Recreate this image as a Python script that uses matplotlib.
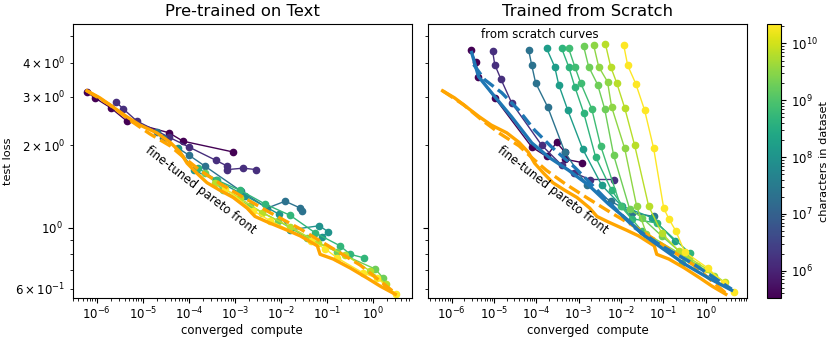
import matplotlib
matplotlib.use("Agg")
import matplotlib.pyplot as plt
import matplotlib.colors as mcolors
import matplotlib.cm as cm
import matplotlib.ticker as mticker

# ---------------- data ----------------
# Fine-tuned pareto front (solid) and its fit (dashed)
ft_front_x = [6.1e-7, 1.16e-6, 2.23e-6, 4.5e-6, 8.6e-6, 2.0e-5, 3.9e-5, 6.4e-5, 9.1e-5, 1.49e-4,
              2.46e-4, 4.7e-4, 9.1e-4, 1.82e-3, 2.7e-3, 5.0e-3, 1.35e-2, 2.6e-2, 6.1e-2, 7.0e-2,
              0.135, 0.316, 0.74, 1.42, 3.0]
ft_front_y = [3.16, 2.98, 2.76, 2.54, 2.37, 2.22, 2.05, 1.89, 1.72, 1.58,
              1.46, 1.37, 1.29, 1.18, 1.10, 1.05, 0.98, 0.934, 0.859, 0.80,
              0.769, 0.713, 0.655, 0.612, 0.572]
ft_fit_x = [6.1e-7, 1.92e-6, 5.2e-6, 1.42e-5, 3.9e-5, 8.2e-5, 1.73e-4, 4.7e-4, 1.65e-3,
            5.8e-3, 2.6e-2, 0.116, 0.52, 3.0]
ft_fit_y = [3.16, 2.81, 2.47, 2.20, 1.99, 1.79, 1.62, 1.45, 1.28,
            1.135, 0.99, 0.851, 0.731, 0.577]

# Scratch pareto front (solid) and its fit (dashed)
sc_front_x = [2.96e-6, 4.3e-6, 1.04e-5, 2.6e-5, 7.8e-5, 1.96e-4, 5.8e-4, 1.72e-3, 5.1e-3,
              1.52e-2, 3.1e-2, 9.1e-2, 0.32, 1.18, 4.1]
sc_front_y = [4.36, 3.56, 3.01, 2.54, 2.04, 1.81, 1.62, 1.43, 1.22,
              1.06, 0.951, 0.845, 0.737, 0.655, 0.592]
sc_fit_x = [3.3e-6, 6.0e-6, 1.52e-5, 3.8e-5, 9.1e-5, 2.3e-4, 8.1e-4, 2.4e-3, 7.1e-3,
            2.1e-2, 9.1e-2, 0.47, 4.1]
sc_fit_y = [3.94, 3.47, 3.11, 2.69, 2.27, 1.97, 1.66, 1.40, 1.18,
            1.0, 0.859, 0.744, 0.597]

# Fine-tuned curves (left panel), one per dataset size
ft_sizes = [3.35e5, 1.5e6, 2.2e7, 1.0e8, 5e8, 1.9e9, 6.7e9, 2.16e10]
ft_x = [
    [6.1e-7, 9.0e-7, 2.0e-6, 4.5e-6, 3.7e-5, 7.4e-5, 9.1e-4],
    [2.6e-6, 3.7e-6, 7.4e-6, 3.7e-5, 1e-4, 3.9e-4, 6.7e-4, 6.7e-4, 1.5e-3, 2.9e-3],
    [2.0e-5, 2.7e-5, 1e-4, 2.2e-4, 1.35e-3, 5.0e-3, 1.22e-2, 2.6e-2, 2.8e-2],
    [5.8e-5, 1.29e-4, 3.9e-4, 1.65e-3, 9.1e-3, 1.57e-2, 6.7e-2, 0.105, 7.8e-2],
    [1.57e-4, 4.1e-4, 1.29e-3, 4.5e-3, 1.57e-2, 5.5e-2, 0.19, 0.316, 0.64],
    [2.23e-4, 5.5e-4, 2.1e-3, 8.6e-3, 3.7e-2, 0.165, 1.10, 1.65],
    [3.7e-4, 1.29e-3, 3.9e-3, 1.57e-2, 6.4e-2, 0.246, 0.86, 1.92],
    [6.1e-4, 2.46e-3, 5.8e-3, 4.5e-2, 9.1e-2, 0.165, 0.61, 1.22, 3.16],
]
ft_y = [
    [3.13, 2.98, 2.74, 2.45, 2.22, 2.07, 1.89],
    [2.88, 2.72, 2.45, 2.14, 1.97, 1.76, 1.68, 1.63, 1.65, 1.63],
    [2.24, 2.12, 1.84, 1.68, 1.36, 1.18, 1.25, 1.18, 1.155],
    [1.95, 1.62, 1.49, 1.31, 1.12, 0.983, 1.017, 0.967, 0.927],
    [1.65, 1.49, 1.37, 1.22, 1.11, 0.958, 0.859, 0.80, 0.776],
    [1.59, 1.37, 1.20, 1.06, 0.919, 0.816, 0.707, 0.655],
    [1.46, 1.28, 1.135, 1.0085, 0.881, 0.796, 0.695, 0.623],
    [1.39, 1.155, 1.06, 0.896, 0.837, 0.776, 0.683, 0.655, 0.572],
]

# From-scratch curves (right panel), one per dataset size
sc_sizes = [3.35e5, 1.5e6, 2.2e7, 1.5e8, 4.5e8, 7e8, 1.9e9, 3.3e9, 6.7e9, 2.16e10]
sc_x = [
    [2.8e-6, 3.7e-6, 4.3e-6, 1.04e-5, 7.8e-5, 1.75e-4, 3.0e-4, 4.7e-4, 4.7e-4, 1.18e-3],
    [9.3e-6, 1.04e-5, 1.44e-5, 2.6e-5, 1.34e-4, 4.0e-4, 7.6e-4, 1.82e-3, 6.7e-3],
    [6.6e-5, 7.8e-5, 9.6e-5, 1.85e-4, 4.7e-4, 1.55e-3, 5.7e-3, 1.79e-2, 5.9e-2],
    [1.75e-4, 2.71e-4, 3.37e-4, 5.5e-4, 1.24e-3, 3.5e-3, 1.04e-2, 5.3e-2, 0.185],
    [3.97e-4, 5.8e-4, 8.1e-4, 1.31e-3, 2.52e-3, 6.0e-3, 1.79e-2, 7.0e-2, 0.42],
    [5.8e-4, 8.1e-4, 1.11e-3, 2.03e-3, 3.3e-3, 9.8e-3, 3.1e-2, 0.27],
    [1.31e-3, 1.72e-3, 2.8e-3, 4.1e-3, 6.7e-3, 1.6e-2, 3.1e-2, 9.1e-2, 0.61],
    [2.26e-3, 2.97e-3, 4.8e-3, 6.0e-3, 1.22e-2, 2.34e-2, 4.0e-2, 0.40, 1.55],
    [4.3e-3, 5.7e-3, 7.9e-3, 1.22e-2, 2.1e-2, 4.5e-2, 9.1e-2, 0.23, 1.06, 2.81],
    [1.16e-2, 1.44e-2, 2.22e-2, 3.6e-2, 5.9e-2, 0.102, 0.134, 0.196, 0.32, 1.12, 2.67, 4.6],
]
sc_y = [
    [4.44, 4.04, 3.56, 2.98, 1.97, 1.82, 2.05, 1.89, 1.78, 1.73],
    [4.40, 3.94, 3.50, 2.86, 2.00, 1.69, 1.59, 1.50, 1.50],
    [4.44, 3.91, 3.38, 2.76, 1.89, 1.43, 1.25, 1.135, 1.10],
    [4.51, 3.87, 3.33, 2.69, 1.94, 1.43, 1.20, 1.09, 0.896],
    [4.51, 3.87, 3.27, 2.63, 1.81, 1.37, 1.08, 1.04, 0.809],
    [4.51, 3.87, 3.38, 2.72, 1.99, 1.20, 0.975, 0.744],
    [4.59, 3.87, 3.33, 2.72, 1.84, 1.17, 1.09, 0.934, 0.725],
    [4.63, 3.87, 3.41, 2.76, 1.95, 1.20, 0.951, 0.769, 0.667],
    [4.67, 3.87, 3.38, 2.74, 2.00, 1.20, 0.958, 0.823, 0.707, 0.633],
    [4.63, 3.91, 3.36, 2.69, 1.95, 1.18, 1.08, 0.975, 0.816, 0.713, 0.628, 0.582],
]

# ---------------- figure ----------------
fig = plt.figure(figsize=(8.3, 3.39), dpi=100)
ax1 = fig.add_axes([0.0876, 0.122, 0.4084, 0.806])
ax2 = fig.add_axes([0.5160, 0.122, 0.3843, 0.806], sharey=ax1)
cax = fig.add_axes([0.9237, 0.122, 0.0172, 0.806])

norm = mcolors.LogNorm(vmin=min(sc_sizes), vmax=max(sc_sizes))
cmap = plt.get_cmap("viridis")

ORANGE = "orange"
BLUE = "#1f77b4"

for ax in (ax1, ax2):
    ax.set_xscale("log")
    ax.set_yscale("log")

# left panel
for d, xs, ys in zip(ft_sizes, ft_x, ft_y):
    ax1.plot(xs, ys, "-o", color=cmap(norm(d)), lw=1.0, ms=4.5, zorder=2)
ax1.plot(ft_front_x, ft_front_y, "-", color=ORANGE, lw=2.4, zorder=4)
ax1.plot(ft_fit_x, ft_fit_y, "--", color=ORANGE, lw=2.4, zorder=4)

# right panel
for d, xs, ys in zip(sc_sizes, sc_x, sc_y):
    ax2.plot(xs, ys, "-o", color=cmap(norm(d)), lw=1.0, ms=4.5, zorder=2)
ax2.plot(ft_front_x, ft_front_y, "-", color=ORANGE, lw=2.4, zorder=4)
ax2.plot(ft_fit_x, ft_fit_y, "--", color=ORANGE, lw=2.4, zorder=4)
ax2.plot(sc_front_x, sc_front_y, "-", color=BLUE, lw=2.4, zorder=5)
ax2.plot(sc_fit_x, sc_fit_y, "--", color=BLUE, lw=2.4, zorder=5)

ax1.set_xlim(3.0e-7, 6.8)
ax2.set_xlim(2.8e-7, 9.6)
ax1.set_ylim(0.556, 5.52)

for ax in (ax1, ax2):
    ax.xaxis.set_major_locator(mticker.LogLocator(base=10, numticks=20))
    ax.xaxis.set_minor_locator(mticker.LogLocator(base=10, subs=range(2, 10), numticks=20))
    ax.xaxis.set_minor_formatter(mticker.NullFormatter())
    ax.tick_params(axis="both", which="both", labelsize=8.5)
    ax.tick_params(axis="x", which="major", pad=2.5)
    ax.set_xlabel("converged  compute", fontsize=8.5, labelpad=1)
ax2.tick_params(axis="y", which="both", labelleft=False)
ax1.set_ylabel("test loss", fontsize=8.2, labelpad=1)

ax1.set_title("Pre-trained on Text", fontsize=11.8)
ax2.set_title("Trained from Scratch", fontsize=11.8)

ax1.text(0.378, 0.392, "fine-tuned pareto front", transform=ax1.transAxes,
         rotation=-37.5, ha="center", va="center", fontsize=8.5, zorder=6)
ax2.text(0.389, 0.392, "fine-tuned pareto front", transform=ax2.transAxes,
         rotation=-37.5, ha="center", va="center", fontsize=8.5, zorder=6)
ax2.text(0.351, 0.963, "from scratch curves", transform=ax2.transAxes,
         ha="center", va="center", fontsize=8.5)

sm = cm.ScalarMappable(norm=norm, cmap=cmap)
sm.set_array([])
cb = fig.colorbar(sm, cax=cax)
cb.ax.tick_params(labelsize=8.5)
cb.set_label("characters in dataset", fontsize=8.2, labelpad=1)

fig.savefig("out.png", dpi=100)
